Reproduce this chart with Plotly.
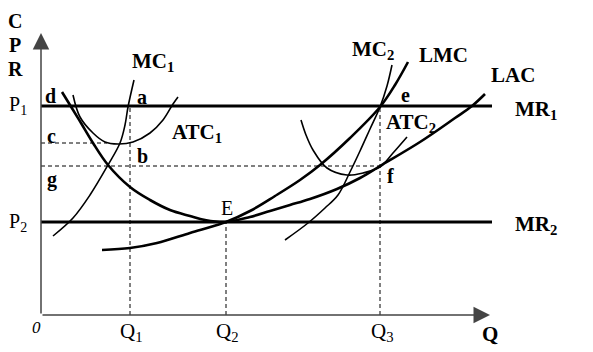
import plotly.graph_objects as go

# ---- data (chart units: quantity Q, price/cost C) ----
lac_q = [21, 29, 40, 52, 67, 89, 109, 129, 149, 164, 185, 209, 229, 249, 269, 296, 319, 339, 379, 414, 431, 444]
lac_c = [223, 210, 192, 172, 150, 128, 115, 105, 99, 95, 93, 98, 104, 110, 116, 126, 137, 149, 173, 197, 209, 221]

lmc_q = [61, 89, 116, 149, 176, 185, 209, 234, 259, 279, 309, 339, 354, 367]
lmc_c = [65, 67, 72, 82, 90, 93, 104, 119, 135, 150, 177, 208, 230, 253]

mc1_q = [12, 32, 49, 67, 79, 84, 87, 93]
mc1_c = [79, 97, 120, 150, 172, 190, 208, 235]

atc1_q = [32, 39, 52, 64, 77, 92, 109, 122, 132, 137]
atc1_c = [220, 198, 182, 173, 171, 173, 182, 195, 211, 218]

mc2_q = [244, 267, 284, 297, 309, 319, 329, 339, 346, 351]
mc2_c = [75, 92, 107, 120, 143, 164, 186, 208, 229, 250]

atc2_q = [260, 265, 272, 286, 306, 322, 339, 352, 366]
atc2_c = [195, 180, 165, 147, 140, 142, 148, 162, 178]

P1, P2 = 209, 93
C_LEVEL, G_LEVEL = 172, 149
Q1, Q2, Q3 = 89, 185, 339
MR_END = 451
C_END = 66
Q_MAX, C_MAX = 449, 282

labels = [
    # text, x, y, size
    ("<b>C</b>", -26, 294, 20),
    ("<b>P</b>", -26, 270, 20),
    ("<b>R</b>", -26, 246, 20),
    ("P<sub>1</sub>", -23, 210, 20),
    ("P<sub>2</sub>", -23, 93, 20),
    ("<b>d</b>", 9, 219, 20),
    ("<b>a</b>", 101, 218, 20),
    ("<b>c</b>", 10, 179, 20),
    ("<b>b</b>", 101, 159, 20),
    ("<b>g</b>", 11, 136, 20),
    ("<i>0</i>", -5, -12, 17),
    ("Q<sub>1</sub>", 90, -17, 21),
    ("Q<sub>2</sub>", 186, -17, 21),
    ("Q<sub>3</sub>", 341, -17, 21),
    ("<b>Q</b>", 449, -19, 21),
    ("<b>MC<sub>1</sub></b>", 112, 253, 21),
    ("<b>ATC<sub>1</sub></b>", 156, 182, 21),
    ("E", 186, 107, 20),
    ("<b>MC<sub>2</sub></b>", 332, 265, 21),
    ("<b>LMC</b>", 402, 260, 21),
    ("<b>LAC</b>", 472, 240, 21),
    ("<b>e</b>", 364, 220, 20),
    ("<b>MR<sub>1</sub></b>", 495, 205, 21),
    ("<b>ATC<sub>2</sub></b>", 370, 192, 21),
    ("<b>f</b>", 349, 139, 20),
    ("<b>MR<sub>2</sub></b>", 495, 90, 21),
]

FONT = "Liberation Serif, Times New Roman, serif"

fig = go.Figure()

def curve(q, c, w):
    fig.add_trace(go.Scatter(x=q, y=c, mode="lines",
                             line=dict(color="black", width=w, shape="spline", smoothing=1.0),
                             hoverinfo="skip", showlegend=False))

def seg(x0, y0, x1, y1, w, dash=None, color="black"):
    fig.add_shape(type="line", x0=x0, y0=y0, x1=x1, y1=y1, xref="x", yref="y",
                  line=dict(color=color, width=w, dash=dash))

# dashed guides
seg(0, C_LEVEL, C_END, C_LEVEL, 1, "4px,3px")
seg(0, G_LEVEL, Q3, G_LEVEL, 1, "4px,3px")
seg(Q1, 0, Q1, P1, 1, "4px,3px")
seg(Q2, 0, Q2, P2, 1, "4px,3px")
seg(Q3, 0, Q3, P1, 1, "4px,3px")

# MR lines
seg(0, P1, MR_END, P1, 3.2)
seg(0, P2, MR_END, P2, 3.2)

# curves
curve(mc1_q, mc1_c, 1.6)
curve(atc1_q, atc1_c, 1.6)
curve(mc2_q, mc2_c, 1.6)
curve(atc2_q, atc2_c, 1.6)
curve(lac_q, lac_c, 2.6)
curve(lmc_q, lmc_c, 2.6)

# axes with arrows
for (x, y) in [(0, C_MAX), (Q_MAX, 0)]:
    fig.add_annotation(x=x, y=y, ax=0, ay=0, xref="x", yref="y", axref="x", ayref="y",
                       text="", showarrow=True, arrowhead=2, arrowsize=2.2,
                       arrowwidth=1.5, arrowcolor="#444")

for t, x, y, s in labels:
    fig.add_annotation(x=x, y=y, text=t, showarrow=False, xref="x", yref="y",
                       font=dict(family=FONT, size=s, color="black"),
                       xanchor="center", yanchor="middle")

fig.update_layout(
    width=593, height=352,
    margin=dict(l=0, r=0, t=0, b=0),
    paper_bgcolor="white", plot_bgcolor="white",
    xaxis=dict(range=[-41, 552], visible=False, fixedrange=True),
    yaxis=dict(range=[-37, 315], visible=False, fixedrange=True),
    hovermode=False,
)

fig.write_html("out.html")
